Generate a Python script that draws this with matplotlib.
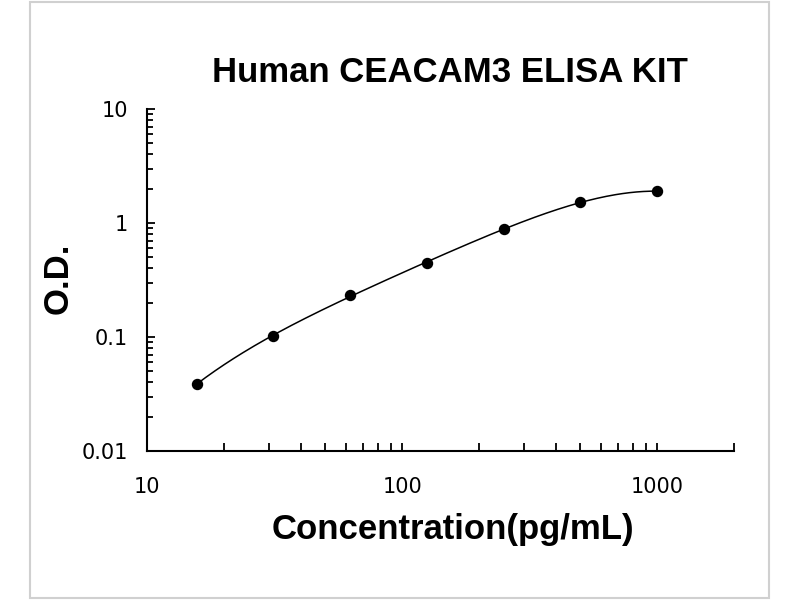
import numpy as np
import matplotlib
matplotlib.use('Agg')
import matplotlib.pyplot as plt
from matplotlib.patches import Rectangle

# standard curve data
conc = [15.625, 31.25, 62.5, 125, 250, 500, 1000]
od = [0.0388, 0.1016, 0.236, 0.442, 0.889, 1.52, 1.90]

title = 'Human CEACAM3 ELISA KIT'
xlab = 'Concentration(pg/mL)'
ylab = 'O.D.'

fig = plt.figure(figsize=(8, 6), dpi=100)
ax = fig.add_axes([0.184, 0.2483, 0.7335, 0.57])

# fitted curve in log-log space
lx = np.log10(conc)
ly = np.log10(od)
coef = np.polyfit(lx, ly, 4)
xs = np.linspace(lx[0], lx[-1], 200)
ax.plot(10**xs, 10**np.polyval(coef, xs), color='black', lw=1.1)
ax.plot(conc, od, 'o', color='black', markersize=7.2)

ax.set_xscale('log')
ax.set_yscale('log')
ax.set_xlim(10, 2000)
ax.set_ylim(0.01, 10)

ax.set_xticks([10, 100, 1000])
ax.set_xticklabels(['10', '100', '1000'])
ax.set_yticks([0.01, 0.1, 1, 10])
ax.set_yticklabels(['0.01', '0.1', '1', '10'])

for s in ['top', 'right']:
    ax.spines[s].set_visible(False)
for s in ['left', 'bottom']:
    ax.spines[s].set_linewidth(1.5)

ax.tick_params(axis='both', which='both', direction='in', width=1.3,
               labelsize=15, colors='black')
ax.tick_params(axis='x', which='major', length=6, pad=19)
ax.tick_params(axis='x', which='minor', length=6)
ax.tick_params(axis='y', which='major', length=6, pad=14)
ax.tick_params(axis='y', which='minor', length=4.5)
ax.yaxis.set_minor_formatter(matplotlib.ticker.NullFormatter())
ax.xaxis.set_minor_formatter(matplotlib.ticker.NullFormatter())

bold = dict(family='Liberation Sans', weight='bold', size=25)
fig.text(450 / 800, 1 - 72 / 600, title, ha='center', va='center', **bold)
fig.text(453 / 800, 1 - 530 / 600, xlab, ha='center', va='center', **bold)
fig.text(58 / 800, 1 - 278 / 600, ylab, ha='center', va='center', rotation=90, **bold)

# light grey frame around picture
fig.patches.append(Rectangle((30 / 800, 2 / 600), 739 / 800, 596 / 600,
                             transform=fig.transFigure, fill=False,
                             edgecolor='#d0d0d0', lw=1.5))

fig.savefig('out.png', dpi=100)
